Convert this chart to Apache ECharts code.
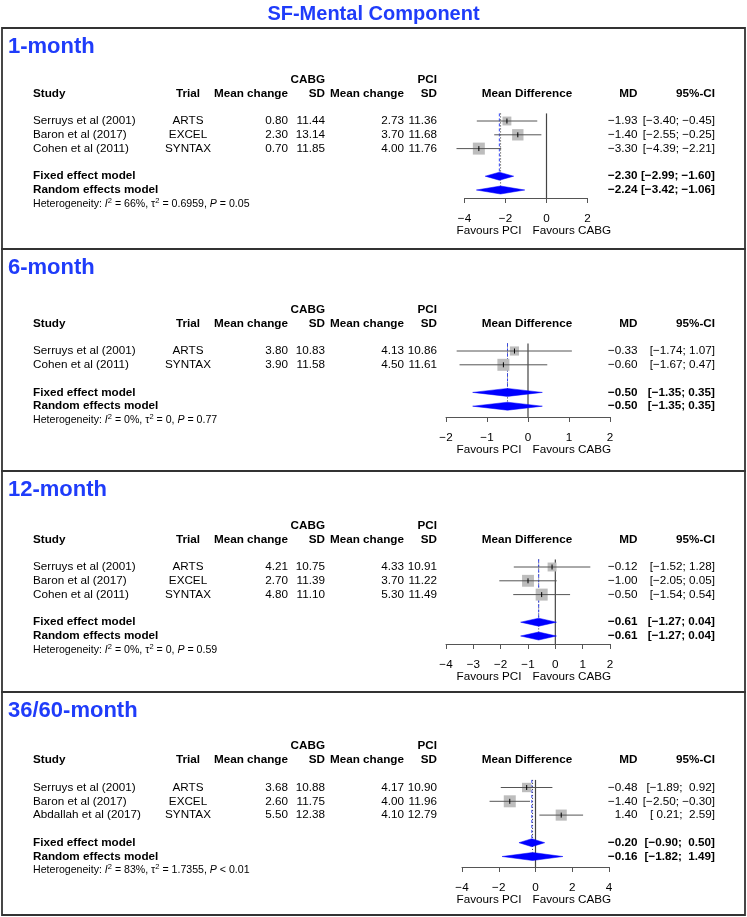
<!DOCTYPE html>
<html><head><meta charset="utf-8">
<script src="https://cdn.jsdelivr.net/npm/echarts@6/dist/echarts.min.js"></script>
<style>html,body{margin:0;padding:0;background:#fff}#c{width:747px;height:917px}</style>
</head><body><div id="c"></div>
<script>
// ---------------- DATA ----------------
const chartTitle = 'SF-Mental Component';
const panelTitles = ['1-month', '6-month', '12-month', '36/60-month'];

// 1-month
const studies1 = ['Serruys et al (2001)', 'Baron et al (2017)', 'Cohen et al (2011)'];
const trials1 = ['ARTS', 'EXCEL', 'SYNTAX'];
const cabgMean1 = [0.80, 2.30, 0.70];
const cabgSD1 = [11.44, 13.14, 11.85];
const pciMean1 = [2.73, 3.70, 4.00];
const pciSD1 = [11.36, 11.68, 11.76];
const md1 = [-1.93, -1.40, -3.30];
const lo1 = [-3.40, -2.55, -4.39];
const hi1 = [-0.45, -0.25, -2.21];
const fixed1 = [-2.30, -2.99, -1.60];
const random1 = [-2.24, -3.42, -1.06];
const ticks1 = [-4, -2, 0, 2];

// 6-month
const studies2 = ['Serruys et al (2001)', 'Cohen et al (2011)'];
const trials2 = ['ARTS', 'SYNTAX'];
const cabgMean2 = [3.80, 3.90];
const cabgSD2 = [10.83, 11.58];
const pciMean2 = [4.13, 4.50];
const pciSD2 = [10.86, 11.61];
const md2 = [-0.33, -0.60];
const lo2 = [-1.74, -1.67];
const hi2 = [1.07, 0.47];
const fixed2 = [-0.50, -1.35, 0.35];
const random2 = [-0.50, -1.35, 0.35];
const ticks2 = [-2, -1, 0, 1, 2];

// 12-month
const studies3 = ['Serruys et al (2001)', 'Baron et al (2017)', 'Cohen et al (2011)'];
const trials3 = ['ARTS', 'EXCEL', 'SYNTAX'];
const cabgMean3 = [4.21, 2.70, 4.80];
const cabgSD3 = [10.75, 11.39, 11.10];
const pciMean3 = [4.33, 3.70, 5.30];
const pciSD3 = [10.91, 11.22, 11.49];
const md3 = [-0.12, -1.00, -0.50];
const lo3 = [-1.52, -2.05, -1.54];
const hi3 = [1.28, 0.05, 0.54];
const fixed3 = [-0.61, -1.27, 0.04];
const random3 = [-0.61, -1.27, 0.04];
const ticks3 = [-4, -3, -2, -1, 0, 1, 2];

// 36/60-month
const studies4 = ['Serruys et al (2001)', 'Baron et al (2017)', 'Abdallah et al (2017)'];
const trials4 = ['ARTS', 'EXCEL', 'SYNTAX'];
const cabgMean4 = [3.68, 2.60, 5.50];
const cabgSD4 = [10.88, 11.75, 12.38];
const pciMean4 = [4.17, 4.00, 4.10];
const pciSD4 = [10.90, 11.96, 12.79];
const md4 = [-0.48, -1.40, 1.40];
const lo4 = [-1.89, -2.50, 0.21];
const hi4 = [0.92, -0.30, 2.59];
const fixed4 = [-0.20, -0.90, 0.50];
const random4 = [-0.16, -1.82, 1.49];
const ticks4 = [-4, -2, 0, 2, 4];

// heterogeneity
const hetI2 = ['66%', '0%', '0%', '83%'];
const hetTau2 = ['0.6959', '0', '0', '1.7355'];
const hetP = ['= 0.05', '= 0.77', '= 0.59', '< 0.01'];

// ---------------- BUILD ----------------
const panels = [
  {studies: studies1, trials: trials1, cabgMean: cabgMean1, cabgSD: cabgSD1, pciMean: pciMean1, pciSD: pciSD1, md: md1, lo: lo1, hi: hi1, fixed: fixed1, random: random1, ticks: ticks1},
  {studies: studies2, trials: trials2, cabgMean: cabgMean2, cabgSD: cabgSD2, pciMean: pciMean2, pciSD: pciSD2, md: md2, lo: lo2, hi: hi2, fixed: fixed2, random: random2, ticks: ticks2},
  {studies: studies3, trials: trials3, cabgMean: cabgMean3, cabgSD: cabgSD3, pciMean: pciMean3, pciSD: pciSD3, md: md3, lo: lo3, hi: hi3, fixed: fixed3, random: random3, ticks: ticks3},
  {studies: studies4, trials: trials4, cabgMean: cabgMean4, cabgSD: cabgSD4, pciMean: pciMean4, pciSD: pciSD4, md: md4, lo: lo4, hi: hi4, fixed: fixed4, random: random4, ticks: ticks4}
];

const FONT = '"Liberation Sans", Arial, Helvetica, sans-serif';
const FS = 11.7;
const BLUE = '#1f3cfa';
const ROW = 13.8;
const LAYOUT = [
  {top: 28, bottom: 249, base: 121, axisY: 198, left: 464.5, width: 123},
  {top: 249, bottom: 471, base: 351, axisY: 417, left: 446, width: 164},
  {top: 471, bottom: 692, base: 567, axisY: 644, left: 446, width: 164},
  {top: 692, bottom: 915, base: 787.5, axisY: 867, left: 462, width: 147}
];
const COL = {study: 33, trial: 188, cabgMean: 288, cabgSD: 325, pciMean: 404, pciSD: 437, forest: 527, md: 637.5, ci: 715};

const minus = s => String(s).replace(/-/g, '\u2212');
const f2 = v => minus(v.toFixed(2));
function ciStr(lo, hi, padLo, padHi) {
  const a = (lo >= 0 && padLo ? ' ' : '') + f2(lo);
  const b = (hi >= 0 && padHi ? ' ' : '') + f2(hi);
  return '[' + a + '; ' + b + ']';
}
function T(x, y, text, o) {
  o = o || {};
  const st = {x: x, y: y, text: text, fill: '#000',
    font: (o.bold ? 'bold ' : '') + (o.size || FS) + 'px ' + FONT,
    align: o.align || 'left', verticalAlign: 'middle'};
  if (o.extra) Object.assign(st, o.extra);
  return {type: 'text', style: st};
}

const grids = [], xAxes = [], yAxes = [], series = [], graphics = [];

graphics.push({type: 'text', style: {x: 373.5, y: 14, text: chartTitle, font: 'bold 20px ' + FONT, fill: BLUE, align: 'center', verticalAlign: 'middle'}});

panels.forEach((P, i) => {
  const L = LAYOUT[i];
  const n = P.studies.length;
  const rowF = n + 1, rowR = n + 2, rowH = n + 3;
  const gTop = L.base - 4 * ROW;
  const yMax = (L.axisY - L.base) / ROW;

  graphics.push({type: 'rect', shape: {x: 2, y: L.top, width: 743, height: L.bottom - L.top},
    style: {fill: 'none', stroke: '#333', lineWidth: 1.8}});
  graphics.push({type: 'text', style: {x: 8, y: L.top + 19, text: panelTitles[i], font: 'bold 22px ' + FONT, fill: BLUE, align: 'left', verticalAlign: 'middle'}});

  grids.push({left: L.left, top: gTop, width: L.width, height: L.axisY - gTop});
  xAxes.push({gridIndex: i, type: 'value', min: P.ticks[0], max: P.ticks[P.ticks.length - 1], interval: P.ticks[1] - P.ticks[0],
    axisLine: {show: true, onZero: false, lineStyle: {color: '#555', width: 1}},
    axisTick: {show: true, length: 5, lineStyle: {color: '#555', width: 1}},
    axisLabel: {margin: 15, fontSize: FS, fontFamily: FONT, color: '#000', formatter: v => minus(v)},
    splitLine: {show: false}});
  yAxes.push({gridIndex: i, type: 'value', min: -4, max: yMax, inverse: true, show: false});

  const minW = Math.min.apply(null, P.hi.map((h, k) => h - P.lo[k]));

  // reference / pooled lines
  series.push({type: 'custom', xAxisIndex: i, yAxisIndex: i, clip: false, silent: true, z: 2,
    data: [[0, -0.55, yMax, 0], [P.random[0], -0.55, rowR - 0.3, 1], [P.fixed[0], -0.55, rowF - 0.3, 2]],
    encode: {x: 0, y: [1, 2]},
    renderItem: (params, api) => {
      const a = api.coord([api.value(0), api.value(1)]);
      const b = api.coord([api.value(0), api.value(2)]);
      const k = api.value(3);
      const style = k === 0 ? {stroke: '#444', lineWidth: 1.2}
        : k === 1 ? {stroke: '#333', lineWidth: 1, lineDash: [1, 2]}
        : {stroke: '#3344ee', lineWidth: 1, lineDash: [3, 2]};
      return {type: 'line', shape: {x1: a[0], y1: a[1], x2: b[0], y2: b[1]}, style: style};
    }});

  // study estimates
  series.push({type: 'custom', xAxisIndex: i, yAxisIndex: i, clip: false, silent: true, z: 3,
    data: P.md.map((m, k) => [m, k, P.lo[k], P.hi[k]]),
    encode: {x: [0, 2, 3], y: 1},
    renderItem: (params, api) => {
      const m = api.value(0), r = api.value(1), lo = api.value(2), hi = api.value(3);
      const c = api.coord([m, r]), a = api.coord([lo, r]), b = api.coord([hi, r]);
      const s = 12 * minW / (hi - lo);
      return {type: 'group', children: [
        {type: 'rect', shape: {x: c[0] - s / 2, y: c[1] - s / 2, width: s, height: s}, style: {fill: '#bdbdbd'}},
        {type: 'line', shape: {x1: a[0], y1: c[1], x2: b[0], y2: c[1]}, style: {stroke: '#555', lineWidth: 1}},
        {type: 'line', shape: {x1: c[0], y1: c[1] - 2.5, x2: c[0], y2: c[1] + 2.5}, style: {stroke: '#000', lineWidth: 1}}
      ]};
    }});

  // diamonds
  series.push({type: 'custom', xAxisIndex: i, yAxisIndex: i, clip: false, silent: true, z: 4,
    data: [[P.fixed[0], rowF, P.fixed[1], P.fixed[2]], [P.random[0], rowR, P.random[1], P.random[2]]],
    encode: {x: [0, 2, 3], y: 1},
    renderItem: (params, api) => {
      const m = api.value(0), r = api.value(1), lo = api.value(2), hi = api.value(3);
      const c = api.coord([m, r]), a = api.coord([lo, r]), b = api.coord([hi, r]);
      const h = 4;
      return {type: 'polygon', shape: {points: [[a[0], c[1]], [c[0], c[1] - h], [b[0], c[1]], [c[0], c[1] + h]]},
        style: {fill: '#0000ff', stroke: '#0000ff', lineWidth: 0.5}};
    }});

  // text table
  const padLo = P.lo.concat([P.fixed[1], P.random[1]]).some(v => v < 0);
  const padHi = P.hi.concat([P.fixed[2], P.random[2]]).some(v => v < 0);
  const rows = [{r: -3, kind: 'group'}, {r: -2, kind: 'head'}];
  for (let k = 0; k < n; k++) rows.push({r: k, kind: 'study', k: k});
  rows.push({r: rowF, kind: 'fixed'}, {r: rowR, kind: 'random'}, {r: rowH, kind: 'het'}, {r: yMax, kind: 'favours'});

  series.push({type: 'custom', xAxisIndex: i, yAxisIndex: i, clip: false, silent: true, z: 5,
    data: rows.map(t => [0, t.r]),
    encode: {x: 0, y: 1},
    renderItem: (params, api) => {
      const t = rows[params.dataIndex];
      const y = api.coord([0, api.value(1)])[1];
      const ch = [];
      if (t.kind === 'group') {
        ch.push(T(COL.cabgSD, y, 'CABG', {bold: 1, align: 'right'}));
        ch.push(T(COL.pciSD, y, 'PCI', {bold: 1, align: 'right'}));
      } else if (t.kind === 'head') {
        ch.push(T(COL.study, y, 'Study', {bold: 1}));
        ch.push(T(COL.trial, y, 'Trial', {bold: 1, align: 'center'}));
        ch.push(T(COL.cabgMean, y, 'Mean change', {bold: 1, align: 'right'}));
        ch.push(T(COL.cabgSD, y, 'SD', {bold: 1, align: 'right'}));
        ch.push(T(COL.pciMean, y, 'Mean change', {bold: 1, align: 'right'}));
        ch.push(T(COL.pciSD, y, 'SD', {bold: 1, align: 'right'}));
        ch.push(T(COL.forest, y, 'Mean Difference', {bold: 1, align: 'center'}));
        ch.push(T(COL.md, y, 'MD', {bold: 1, align: 'right'}));
        ch.push(T(COL.ci, y, '95%-CI', {bold: 1, align: 'right'}));
      } else if (t.kind === 'study') {
        const k = t.k;
        ch.push(T(COL.study, y, P.studies[k]));
        ch.push(T(COL.trial, y, P.trials[k], {align: 'center'}));
        ch.push(T(COL.cabgMean, y, f2(P.cabgMean[k]), {align: 'right'}));
        ch.push(T(COL.cabgSD, y, f2(P.cabgSD[k]), {align: 'right'}));
        ch.push(T(COL.pciMean, y, f2(P.pciMean[k]), {align: 'right'}));
        ch.push(T(COL.pciSD, y, f2(P.pciSD[k]), {align: 'right'}));
        ch.push(T(COL.md, y, f2(P.md[k]), {align: 'right'}));
        ch.push(T(COL.ci, y, ciStr(P.lo[k], P.hi[k], padLo, padHi), {align: 'right'}));
      } else if (t.kind === 'fixed' || t.kind === 'random') {
        const v = t.kind === 'fixed' ? P.fixed : P.random;
        ch.push(T(COL.study, y, t.kind === 'fixed' ? 'Fixed effect model' : 'Random effects model', {bold: 1}));
        ch.push(T(COL.md, y, f2(v[0]), {bold: 1, align: 'right'}));
        ch.push(T(COL.ci, y, ciStr(v[1], v[2], padLo, padHi), {bold: 1, align: 'right'}));
      } else if (t.kind === 'het') {
        const txt = 'Heterogeneity: {it|I}{sup|2} = ' + hetI2[i] + ', \u03c4{sup|2} = ' + hetTau2[i] + ', {it|P} ' + hetP[i];
        ch.push(T(COL.study, y, txt, {size: 10.6, extra: {lineHeight: 14, rich: {
          it: {fontStyle: 'italic', fontSize: 10.6, fontFamily: FONT, lineHeight: 14},
          sup: {fontSize: 7.5, fontFamily: FONT, lineHeight: 8, verticalAlign: 'top'}
        }}}));
      } else if (t.kind === 'favours') {
        ch.push(T(COL.forest - 5.5, y + 33, 'Favours PCI', {align: 'right'}));
        ch.push(T(COL.forest + 5.5, y + 33, 'Favours CABG', {align: 'left'}));
      }
      return {type: 'group', children: ch};
    }});
});

const chart = echarts.init(document.getElementById('c'), null, {renderer: 'canvas'});
chart.setOption({animation: false, backgroundColor: '#fff', grid: grids, xAxis: xAxes, yAxis: yAxes, series: series, graphic: {elements: graphics}});
</script>
</body></html>
